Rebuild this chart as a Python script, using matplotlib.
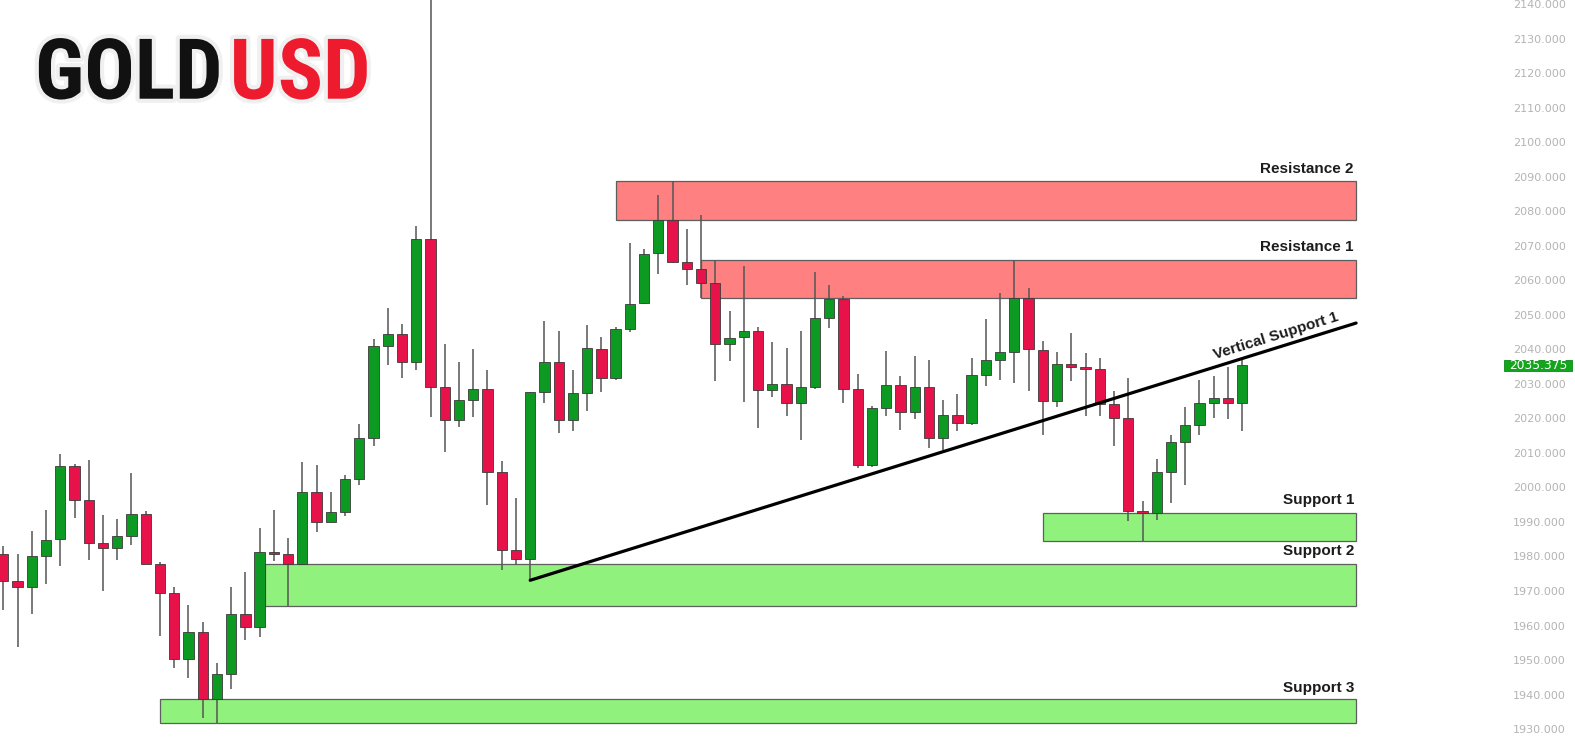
import numpy as np
import matplotlib
matplotlib.use("Agg")
import matplotlib.pyplot as plt
from matplotlib.patches import Rectangle
from matplotlib import font_manager as fm
import matplotlib.patheffects as pe
import matplotlib.transforms as mtrans
import math

# ---------------- data ----------------
opens = [1980.8, 1972.8, 1971.1, 1980.0, 1985.1, 2006.1, 1996.3, 1983.9, 1982.5, 1986.0,
         1992.4, 1977.9, 1969.4, 1950.3, 1958.1, 1938.6, 1946.1, 1963.2, 1959.5, 1981.3,
         1980.8, 1977.9, 1998.7, 1990.0, 1992.8, 2002.5, 2014.2, 2041.0, 2044.4, 2036.2,
         2071.9, 2029.0, 2019.4, 2025.4, 2028.5, 2004.6, 1982.0, 1979.4, 2027.6, 2036.3,
         2019.6, 2027.3, 2040.1, 2031.8, 2045.8, 2053.4, 2067.8, 2077.3, 2065.2, 2063.2,
         2059.1, 2041.6, 2043.7, 2045.4, 2028.1, 2030.0, 2024.4, 2029.0, 2049.2, 2054.5,
         2028.6, 2006.6, 2023.0, 2029.7, 2021.7, 2029.2, 2014.3, 2021.0, 2018.6, 2032.5,
         2037.0, 2039.2, 2054.8, 2039.9, 2024.9, 2035.8, 2035.0, 2034.3, 2024.2, 2020.1,
         1993.1, 1992.6, 2004.4, 2013.1, 2018.0, 2024.4, 2025.9, 2024.4]
highs = [1982.9, 1980.8, 1987.3, 1993.6, 2009.7, 2006.8, 2008.0, 1992.1, 1990.9, 2004.2,
         1993.1, 1978.3, 1971.1, 1965.8, 1961.0, 1949.0, 1971.1, 1975.4, 1988.3, 1993.6,
         1985.4, 2007.5, 2006.4, 1998.6, 2003.6, 2018.3, 2043.0, 2052.1, 2047.3, 2075.6,
         2145.0, 2041.5, 2036.2, 2040.0, 2034.1, 2007.7, 1996.9, 2027.6, 2048.1, 2045.2,
         2033.9, 2047.1, 2043.7, 2046.5, 2070.9, 2069.0, 2084.7, 2088.6, 2074.9, 2078.9,
         2065.9, 2051.2, 2064.0, 2046.6, 2042.1, 2040.3, 2045.2, 2062.3, 2058.7, 2055.5,
         2032.9, 2023.5, 2039.5, 2032.3, 2038.1, 2037.0, 2025.4, 2027.1, 2037.6, 2048.7,
         2056.3, 2065.9, 2057.7, 2042.3, 2039.1, 2044.7, 2038.9, 2037.4, 2027.8, 2031.7,
         1996.0, 2008.2, 2015.3, 2023.3, 2031.2, 2032.3, 2035.0, 2037.4]
lows = [1964.4, 1953.7, 1963.2, 1972.0, 1977.1, 1991.1, 1979.1, 1969.9, 1979.1, 1983.4,
        1977.9, 1956.9, 1947.7, 1944.8, 1933.3, 1931.8, 1941.6, 1955.9, 1956.7, 1978.6,
        1965.6, 1977.9, 1987.0, 1990.0, 1991.8, 2000.8, 2011.9, 2035.5, 2031.7, 2034.1,
        2020.4, 2010.2, 2017.4, 2020.4, 1995.0, 1976.2, 1977.4, 1973.0, 2024.4, 2015.7,
        2016.2, 2022.0, 2027.5, 2031.0, 2045.0, 2053.0, 2061.8, 2065.0, 2058.5, 2054.8,
        2030.9, 2036.5, 2024.7, 2017.2, 2026.3, 2020.6, 2013.6, 2028.5, 2046.1, 2024.4,
        2005.6, 2006.0, 2020.7, 2016.7, 2019.8, 2011.4, 2010.9, 2016.2, 2018.0, 2029.4,
        2031.2, 2030.2, 2028.0, 2015.3, 2023.3, 2030.9, 2020.6, 2020.6, 2012.1, 1990.2,
        1984.4, 1990.5, 1995.5, 2000.6, 2015.3, 2020.1, 2019.8, 2016.4]
closes = [1972.8, 1971.1, 1980.0, 1984.9, 2006.1, 1996.3, 1983.9, 1982.5, 1985.8, 1992.4,
          1977.9, 1969.4, 1950.3, 1958.1, 1938.6, 1946.1, 1963.2, 1959.5, 1981.3, 1980.8,
          1977.9, 1998.7, 1990.0, 1992.8, 2002.5, 2014.2, 2041.0, 2044.4, 2036.2, 2071.9,
          2029.0, 2019.4, 2025.4, 2028.5, 2004.6, 1982.0, 1979.4, 2027.6, 2036.3, 2019.6,
          2027.3, 2040.3, 2031.8, 2045.8, 2053.2, 2067.6, 2077.3, 2065.4, 2063.2, 2059.1,
          2041.6, 2043.4, 2045.4, 2028.1, 2030.0, 2024.4, 2029.0, 2049.2, 2054.5, 2028.6,
          2006.6, 2023.0, 2029.6, 2021.7, 2029.2, 2014.3, 2021.0, 2018.6, 2032.5, 2037.0,
          2039.2, 2054.8, 2040.0, 2024.9, 2035.8, 2035.0, 2034.3, 2024.2, 2020.1, 1993.1,
          1992.6, 2004.4, 2013.1, 2018.0, 2024.4, 2025.9, 2024.4, 2035.375]

# zones: name, left candle index, right candle index, low price, high price
zone_names = ["Resistance 2", "Resistance 1", "Support 1", "Support 2", "Support 3"]
zone_left = [43, 49, 73, 18.36, 11]
zone_right = [95, 95, 95, 95, 95]
zone_low = [2077.3, 2054.8, 1984.4, 1965.6, 1931.8]
zone_high = [2088.6, 2065.9, 1992.6, 1977.9, 1938.6]
zone_kind = ["res", "res", "sup", "sup", "sup"]
label_y = [2092.3, 2069.6, 1996.4, 1981.5, 1942.0]

trend_x = [37, 95]
trend_y = [1973.1, 2047.6]
trend_label = "Vertical Support 1"
trend_label_x = 89.6

yticks = list(range(1930, 2141, 10))
last_price = closes[-1]

# ---------------- style ----------------
GREEN = "#0c9a22"
RED = "#e8124a"
ZONE_RED = "#ff8080"
ZONE_GREEN = "#90f27c"

W, H = 1575, 755
fig = plt.figure(figsize=(W / 100, H / 100), dpi=100)
fig.patch.set_facecolor("white")
ax_right_px = 1505
ax = fig.add_axes([0, 0, ax_right_px / W, 1])
ax.set_facecolor("white")

x0_px, step_px = 3.3, 14.24
ax.set_xlim(-x0_px / step_px, (ax_right_px - x0_px) / step_px)
ax.set_ylim(1922.5, 2141.16)

n = len(opens)
xs = np.arange(n)
o = np.array(opens); c = np.array(closes)
hi = np.array(highs); lo = np.array(lows)
up = c >= o
cols = np.where(up, GREEN, RED)

# zones
for nm, l, r, zl, zh, k in zip(zone_names, zone_left, zone_right, zone_low, zone_high, zone_kind):
    ax.add_patch(Rectangle((l, zl), r - l, zh - zl,
                           facecolor=ZONE_RED if k == "res" else ZONE_GREEN,
                           edgecolor="#5e5e5e", linewidth=0.9, zorder=1))

# wicks
ax.vlines(xs, lo, hi, colors="#555555", linewidth=1.1, zorder=2)

# bodies
bottoms = np.minimum(o, c)
heights = np.maximum(np.abs(c - o), 0.45)
ax.bar(xs, heights, bottom=bottoms, width=0.72, color=cols,
       edgecolor="#3a3a3a", linewidth=0.6, zorder=3)

# trendline
ax.plot(trend_x, trend_y, color="black", linewidth=2.3, solid_capstyle="round", zorder=4)

# zone labels
for nm, ly in zip(zone_names, label_y):
    ax.text(94.85, ly, nm, ha="right", va="center", fontsize=11,
            fontweight="bold", family=["Liberation Sans", "DejaVu Sans"],
            color="#1c1c1c", zorder=5)

# trend label along line
p1 = ax.transData.transform((trend_x[0], trend_y[0]))
p2 = ax.transData.transform((trend_x[1], trend_y[1]))
ang = math.degrees(math.atan2(p2[1] - p1[1], p2[0] - p1[0]))
ty = trend_y[0] + (trend_label_x - trend_x[0]) * (trend_y[1] - trend_y[0]) / (trend_x[1] - trend_x[0])
off = 3.0
ax.annotate(trend_label, xy=(trend_label_x, ty),
            xytext=(-math.sin(math.radians(ang)) * off, math.cos(math.radians(ang)) * off),
            textcoords="offset points", rotation=ang, rotation_mode="anchor",
            ha="center", va="bottom", fontsize=11, fontweight="bold",
            family=["Liberation Sans", "DejaVu Sans"], color="#1c1c1c", zorder=5)

# axis
ax.yaxis.tick_right()
ax.set_yticks(yticks)
ax.set_yticklabels([f"{v:.3f}" for v in yticks])
ax.tick_params(axis="y", length=0, pad=5.8, labelsize=8, labelcolor="#b4b4b4")
ax.set_xticks([])
for s in ax.spines.values():
    s.set_visible(False)

# price tag
blend = mtrans.blended_transform_factory(ax.transAxes, ax.transData)
hh = 11.4 / 3.455 / 2
ax.add_patch(Rectangle((1504 / ax_right_px, last_price - hh), 68 / ax_right_px, 2 * hh,
                       transform=blend, facecolor="#13a61c", edgecolor="#0b8a14",
                       linewidth=0.6, clip_on=False, zorder=6))
ax.text(1538 / ax_right_px, last_price, f"{last_price:.3f}", transform=blend,
        ha="center", va="center", fontsize=8.8, color="white", clip_on=False, zorder=7)

# ---------------- title ----------------
def find_condensed_bold():
    prefs = ["RobotoCondensed-Bold", "DejaVuSansCondensed-Bold", "LiberationSansNarrow-Bold",
             "OpenSans_Condensed-Bold", "OpenSansCondensed-Bold", "Condensed-Bold", "Narrow-Bold",
             "CondensedBold", "NarrowBold"]
    files = [f.fname for f in fm.fontManager.ttflist]
    for p in prefs:
        for fn in files:
            if p.lower() in fn.lower().replace(" ", ""):
                return fm.FontProperties(fname=fn)
    return None

fp = find_condensed_bold()
if fp is None:
    fp = fm.FontProperties(family="DejaVu Sans", weight="bold")

cap_px = 83.0
size_pt = cap_px / 0.73 * 72 / 100
renderer = fig.canvas.get_renderer()
t1 = fig.text(35 / W, 0.5, "GOLD", fontproperties=fp, fontsize=size_pt,
              color="#111111", ha="left", va="baseline")
t2 = fig.text(0, 0.5, "USD", fontproperties=fp, fontsize=size_pt,
              color="#ee1b2e", ha="left", va="baseline")
e1 = t1.get_window_extent(renderer)
e2 = t2.get_window_extent(renderer)
gap = 10
total = e1.width + gap + e2.width
target = 336
scale = 1.0
if total > target:
    scale = target / total
    size_pt *= scale
    t1.set_fontsize(size_pt); t2.set_fontsize(size_pt)
    gap *= scale
cap_now = cap_px * scale
base_px = 68 + cap_now / 2
t1.set_y(1 - base_px / H); t2.set_y(1 - base_px / H)
e1 = t1.get_window_extent(renderer)
t2.set_x((e1.x1 + gap) / W)
for t in (t1, t2):
    t.set_path_effects([pe.Stroke(linewidth=6, foreground="#e4e4e4", alpha=0.55), pe.Normal()])

fig.savefig("out.png", dpi=100, facecolor="white")
